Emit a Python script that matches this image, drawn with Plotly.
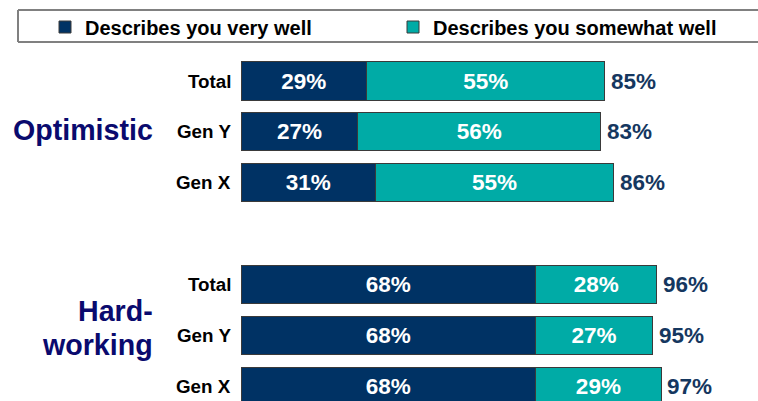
import plotly.graph_objects as go

groups = ["Optimistic", "Hard-working"]
categories = ["Total", "Gen Y", "Gen X"]
very_well = [29, 27, 31, 68, 68, 68]
somewhat_well = [55, 56, 55, 28, 27, 29]
total_labels = ["85%", "83%", "86%", "96%", "95%", "97%"]
series_names = ["Describes you very well", "Describes you somewhat well"]

NAVY = "#003264"
TEAL = "#00aba6"
OUTLINE = "#3a3a3a"
FONT = "Liberation Sans, Arial"

# row index: 3 rows per group, one empty row between groups
rows = [g * 4 + i for g in range(len(groups)) for i in range(len(categories))]
cat_labels = categories * len(groups)
sums = [a + b for a, b in zip(very_well, somewhat_well)]

fig = go.Figure()
for vals, name, color in [(very_well, series_names[0], NAVY),
                          (somewhat_well, series_names[1], TEAL)]:
    fig.add_trace(go.Bar(
        y=rows, x=vals, orientation="h", name=name,
        marker=dict(color=color, line=dict(color=OUTLINE, width=1)),
        width=0.75,
        text=[f"{v}%" for v in vals], textposition="inside",
        insidetextanchor="middle", textangle=0,
        textfont=dict(family=FONT, size=22.5, color="white", weight="bold"),
        hoverinfo="skip",
    ))

annotations = []
for r, s, lab, cat in zip(rows, sums, total_labels, cat_labels):
    annotations.append(dict(
        x=s, y=r, xref="x", yref="y", text=f"<b>{lab}</b>", showarrow=False,
        xanchor="left", yanchor="middle", xshift=4,
        font=dict(family=FONT, size=22.5, color="#15375f"),
    ))
    annotations.append(dict(
        x=0, y=r, xref="x", yref="y", text=f"<b>{cat}</b>", showarrow=False,
        xanchor="right", yanchor="middle", xshift=-8,
        font=dict(family=FONT, size=18.8, color="black"),
    ))

GROUP_COLOR = "#0a0a6e"
gfont = dict(family=FONT, size=28.6, color=GROUP_COLOR)
annotations.append(dict(
    x=0, y=0.97, xref="x", yref="y", text="<b>Optimistic</b>", showarrow=False,
    xanchor="right", yanchor="middle", xshift=-86, font=gfont,
))
annotations.append(dict(
    x=0, y=4.52, xref="x", yref="y", text="<b>Hard-</b>", showarrow=False,
    xanchor="right", yanchor="middle", xshift=-86, font=gfont,
))
annotations.append(dict(
    x=0, y=5.18, xref="x", yref="y", text="<b>working</b>", showarrow=False,
    xanchor="right", yanchor="middle", xshift=-86, font=gfont,
))

W, H = 758, 401
L, R, T, B = 241, 0, 50, 0
pw = W - L - R
ph = H - T - B
px_per_pct = 4.332
pitch = 50.9

def px_x(p):
    return (p - L) / pw

def px_y(p):
    return (H - B - p) / ph

shapes = [
    dict(type="line", xref="paper", yref="paper", x0=px_x(18), x1=px_x(770),
         y0=px_y(10), y1=px_y(10), line=dict(color="#808080", width=2)),
    dict(type="line", xref="paper", yref="paper", x0=px_x(18), x1=px_x(770),
         y0=px_y(42), y1=px_y(42), line=dict(color="#808080", width=2)),
    dict(type="line", xref="paper", yref="paper", x0=px_x(18), x1=px_x(18),
         y0=px_y(10), y1=px_y(42), line=dict(color="#808080", width=2)),
]

top_row = -(81 - T) / pitch
bottom_row = top_row + ph / pitch

fig.update_layout(
    width=W, height=H,
    margin=dict(l=L, r=R, t=T, b=B),
    barmode="stack",
    plot_bgcolor="white", paper_bgcolor="white",
    xaxis=dict(range=[0, pw / px_per_pct], visible=False, fixedrange=True),
    yaxis=dict(range=[bottom_row, top_row], visible=False, fixedrange=True),
    showlegend=True,
    legend=dict(
        orientation="h", traceorder="normal",
        x=px_x(45), y=px_y(27), xanchor="left", yanchor="middle",
        font=dict(family=FONT, size=20, color="black", weight="bold"),
        bgcolor="rgba(0,0,0,0)", borderwidth=0,
        entrywidth=303, entrywidthmode="pixels",
        itemclick=False, itemdoubleclick=False,
    ),
    annotations=annotations,
    shapes=shapes,
)

fig.write_html("out.html")
